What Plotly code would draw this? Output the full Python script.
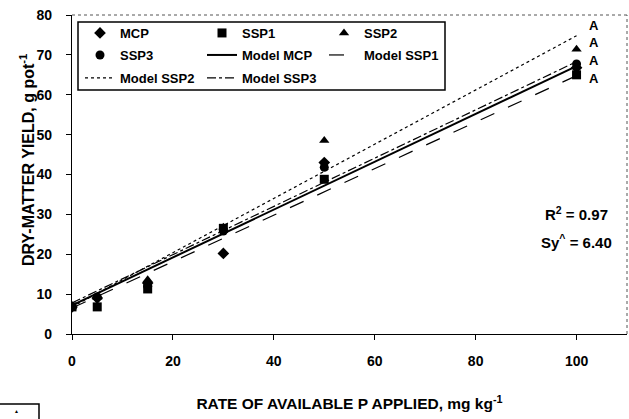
import numpy as np
import plotly.graph_objects as go

# ---- data ----
rates = [0, 5, 15, 30, 50, 100]
mcp = [6.8, 9.0, 12.8, 20.2, 43.0, 66.8]
ssp1 = [6.8, 6.8, 11.3, 26.5, 38.8, 65.0]
ssp2 = [6.8, 9.2, 13.6, 26.8, 48.5, 71.4]
ssp3 = [6.8, 9.3, 12.0, 25.8, 41.8, 67.7]

model_names = ["Model MCP", "Model SSP1", "Model SSP2", "Model SSP3"]
model_intercepts = [7.2, 6.5, 6.8, 7.8]
model_slopes = [0.600, 0.583, 0.680, 0.605]
model_x = [0, 100]

letters = ["A", "A", "A", "A"]
letter_y = [77.3, 73.1, 68.7, 64.2]
letter_x = 103.5

r2_text = "R<sup>2</sup> = 0.97"
sy_text = "Sy<sup>^</sup> = 6.40"

x_title = "RATE OF AVAILABLE P APPLIED, mg kg<sup>-1</sup>"
y_title = "DRY-MATTER YIELD, g pot<sup>-1</sup>"

FONT = "Liberation Sans"

fig = go.Figure()

def add_pts(name, y, symbol, size, legend):
    fig.add_trace(go.Scatter(
        x=rates, y=y, mode="markers", name=name, legend=legend,
        marker=dict(symbol=symbol, size=size, color="black"),
    ))

add_pts("MCP", mcp, "diamond", 9, "legend")
add_pts("SSP1", ssp1, "square", 9, "legend")
add_pts("SSP2", ssp2, "triangle-up", 9, "legend")
add_pts("SSP3", ssp3, "circle", 9, "legend2")

dashes = ["solid", "longdash", "dot", "dashdot"]
widths = [2, 1.2, 1.2, 1.2]
legends = ["legend2", "legend2", "legend3", "legend3"]
for name, b0, b1, d, w, lg in zip(model_names, model_intercepts, model_slopes, dashes, widths, legends):
    xs = np.array(model_x, dtype=float)
    fig.add_trace(go.Scatter(
        x=xs, y=b0 + b1 * xs, mode="lines", name=name, legend=lg,
        line=dict(color="black", width=w, dash=d),
    ))

for t, yy in zip(letters, letter_y):
    fig.add_annotation(x=letter_x, y=yy, text=t, showarrow=False, xref="x", yref="y",
                       font=dict(family=FONT, size=13, color="black", weight="bold"))

fig.add_annotation(x=100, y=30.3, text=r2_text, showarrow=False,
                   font=dict(family=FONT, size=15, color="black", weight="bold"))
fig.add_annotation(x=100, y=23.1, text=sy_text, showarrow=False,
                   font=dict(family=FONT, size=15, color="black", weight="bold"))

W, H = 629, 419
L, R, T, B = 72, 2, 15, 85
pw = W - L - R
ph = H - T - B

def px_x(p):
    return (p - L) / pw

def px_y(p):
    return (H - B - p) / ph

# y-axis title as rotated annotation (placed like the reference)
fig.add_annotation(xref="paper", yref="paper", x=px_x(27), y=px_y(160), text=y_title,
                   textangle=-90, showarrow=False, xanchor="center", yanchor="middle",
                   font=dict(family=FONT, size=16, color="black", weight="bold"))

leg_common = dict(orientation="h", xanchor="left", yanchor="middle",
                  bgcolor="rgba(0,0,0,0)", borderwidth=0, entrywidth=77,
                  entrywidthmode="pixels", itemclick=False,
                  font=dict(family=FONT, size=13, color="black", weight="bold"))
lx = px_x(80)
fig.update_layout(
    legend=dict(x=lx, y=px_y(33), **leg_common),
    legend2=dict(x=lx, y=px_y(55), **leg_common),
    legend3=dict(x=lx, y=px_y(78), **leg_common),
)

shapes = [
    # legend box
    dict(type="rect", xref="paper", yref="paper", x0=px_x(78), x1=px_x(445),
         y0=px_y(90), y1=px_y(22), line=dict(color="black", width=1.5), layer="below"),
    # dotted top / right plot border
    dict(type="line", xref="paper", yref="paper", x0=0, x1=1, y0=1, y1=1,
         line=dict(color="#555", width=1, dash="dot")),
    dict(type="line", xref="paper", yref="paper", x0=1, x1=1, y0=0, y1=1,
         line=dict(color="#555", width=1, dash="dot")),
    # small box at bottom-left
    dict(type="rect", xref="paper", yref="paper", x0=px_x(-2), x1=px_x(39),
         y0=px_y(425), y1=px_y(404), line=dict(color="black", width=1.5)),
]
fig.add_annotation(xref="paper", yref="paper", x=px_x(12), y=px_y(416), text="▲",
                   showarrow=False, font=dict(size=5, color="black"))

fig.update_layout(
    shapes=shapes,
    width=W, height=H,
    margin=dict(l=L, r=R, t=T, b=B),
    plot_bgcolor="white", paper_bgcolor="white",
    font=dict(family=FONT, color="black"),
    showlegend=True,
)

fig.update_xaxes(
    range=[0, 110], tickvals=[0, 20, 40, 60, 80, 100], showgrid=False, zeroline=False,
    showline=True, linecolor="black", linewidth=1.2, ticks="outside", ticklen=5,
    tickcolor="black", ticklabelstandoff=9,
    tickfont=dict(family=FONT, size=14, weight="bold"),
    title=dict(text=x_title, standoff=30,
               font=dict(family=FONT, size=15.5, weight="bold")),
)
fig.update_yaxes(
    range=[0, 80], tickvals=[0, 10, 20, 30, 40, 50, 60, 70, 80], showgrid=False, zeroline=False,
    showline=True, linecolor="black", linewidth=1.2, ticks="outside", ticklen=5,
    tickcolor="black", ticklabelstandoff=11,
    tickfont=dict(family=FONT, size=14, weight="bold"),
)

fig.write_html("out.html")
